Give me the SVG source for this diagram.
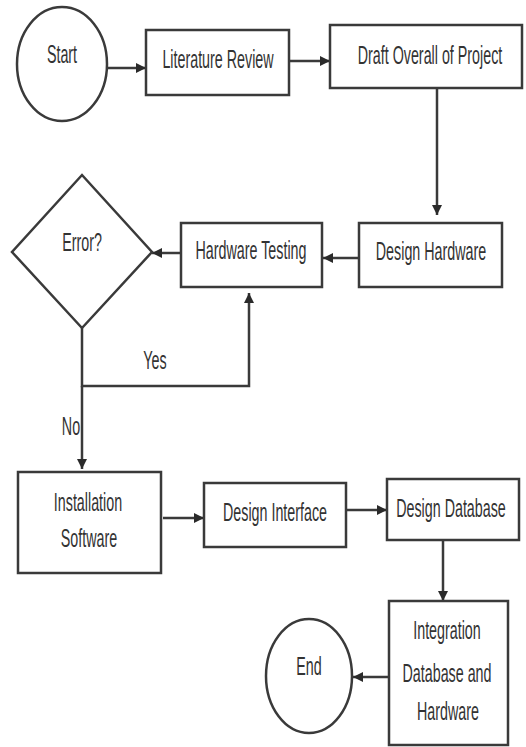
<svg xmlns="http://www.w3.org/2000/svg" width="526" height="747" viewBox="0 0 526 747">
<defs>
<marker id="ah" viewBox="0 0 10 10" refX="10" refY="5" markerWidth="10" markerHeight="10" markerUnits="userSpaceOnUse" orient="auto">
<path d="M0,0 L10,5 L0,10 z" fill="#2a2a2a"/>
</marker>
<style>
.s{fill:#fff;stroke:#3a3a3a;stroke-width:2.5}
.t{font-family:"Liberation Sans",Arial,sans-serif;font-size:26px;fill:#333;text-anchor:middle}
.c{fill:none;stroke:#3a3a3a;stroke-width:2.5}
</style>
</defs>
<rect width="526" height="747" fill="#fff"/>
<g id="connectors">
<line class="c" x1="107" y1="68" x2="146" y2="68" marker-end="url(#ah)"/>
<line class="c" x1="289" y1="61" x2="330" y2="61" marker-end="url(#ah)"/>
<line class="c" x1="437" y1="88" x2="437" y2="215" marker-end="url(#ah)"/>
<line class="c" x1="359" y1="258" x2="323" y2="258" marker-end="url(#ah)"/>
<line class="c" x1="181" y1="253" x2="152" y2="253" marker-end="url(#ah)"/>
<polyline class="c" points="82,328 82,386 249,386 249,293" marker-end="url(#ah)"/>
<line class="c" x1="82" y1="386" x2="82" y2="469" marker-end="url(#ah)"/>
<line class="c" x1="163" y1="518" x2="204" y2="518" marker-end="url(#ah)"/>
<line class="c" x1="346" y1="510" x2="387" y2="510" marker-end="url(#ah)"/>
<line class="c" x1="443" y1="540" x2="443" y2="601" marker-end="url(#ah)"/>
<line class="c" x1="389" y1="677" x2="353" y2="677" marker-end="url(#ah)"/>
<text class="t" transform="matrix(0.55,0,0,1,155,369)">Yes</text>
<text class="t" transform="matrix(0.55,0,0,1,71,435)">No</text>
</g>
<g id="start">
<ellipse class="s" cx="62" cy="64" rx="45" ry="57"/>
<text class="t" transform="matrix(0.55,0,0,1,62,63)">Start</text>
</g>
<g id="literature">
<rect class="s" x="146" y="30" width="143" height="65"/>
<text class="t" transform="matrix(0.55,0,0,1,218,68)">Literature Review</text>
</g>
<g id="draft">
<rect class="s" x="330" y="25" width="192" height="63"/>
<text class="t" transform="matrix(0.55,0,0,1,430,64)">Draft Overall of Project</text>
</g>
<g id="designHardware">
<rect class="s" x="359" y="223" width="143" height="64"/>
<text class="t" transform="matrix(0.55,0,0,1,431,260)">Design Hardware</text>
</g>
<g id="hardwareTesting">
<rect class="s" x="181" y="223" width="141" height="64"/>
<text class="t" transform="matrix(0.55,0,0,1,251,259)">Hardware Testing</text>
</g>
<g id="error">
<polygon class="s" points="82,175 152,252 82,328 12,252"/>
<text class="t" transform="matrix(0.55,0,0,1,82,251)">Error?</text>
</g>
<g id="installation">
<rect class="s" x="18" y="472" width="143" height="101"/>
<text class="t" transform="matrix(0.55,0,0,1,88,511)">Installation</text>
<text class="t" transform="matrix(0.55,0,0,1,89,547)">Software</text>
</g>
<g id="designInterface">
<rect class="s" x="204" y="483" width="142" height="64"/>
<text class="t" transform="matrix(0.55,0,0,1,275,521)">Design Interface</text>
</g>
<g id="designDatabase">
<rect class="s" x="387" y="479" width="132" height="61"/>
<text class="t" transform="matrix(0.55,0,0,1,451,517)">Design Database</text>
</g>
<g id="integration">
<rect class="s" x="389" y="601" width="119" height="144"/>
<text class="t" transform="matrix(0.55,0,0,1,447,639)">Integration</text>
<text class="t" transform="matrix(0.55,0,0,1,447,682)">Database and</text>
<text class="t" transform="matrix(0.55,0,0,1,448,720)">Hardware</text>
</g>
<g id="end">
<ellipse class="s" cx="309" cy="676" rx="43" ry="57"/>
<text class="t" transform="matrix(0.55,0,0,1,309,675)">End</text>
</g>
</svg>
